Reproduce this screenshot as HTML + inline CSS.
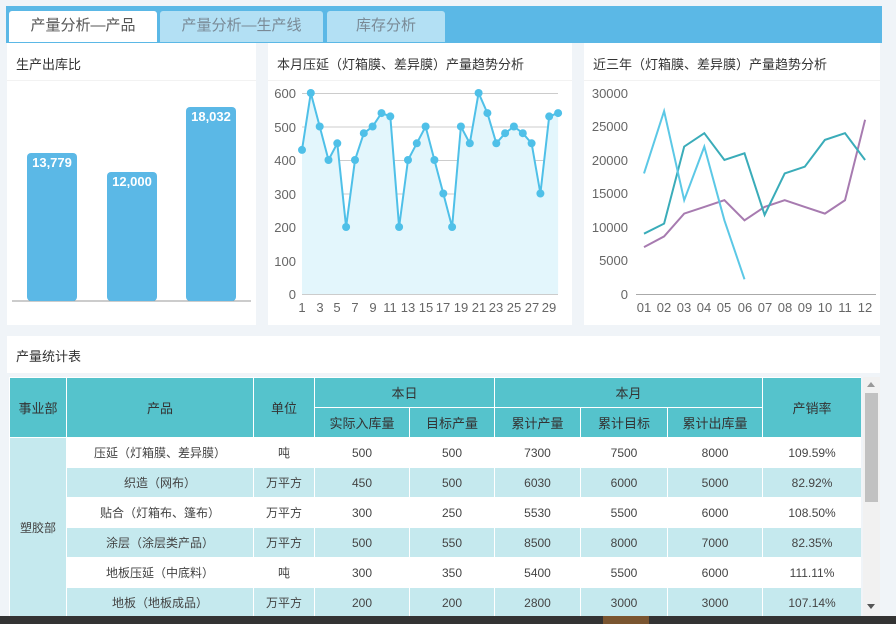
<!DOCTYPE html>
<html><head><meta charset="utf-8"><style>
body{margin:0;width:896px;height:624px;background:#f0f4f8;font-family:"Liberation Sans","Noto Sans CJK SC",sans-serif;position:relative;overflow:hidden}
.abs{position:absolute}
.tab{position:absolute;top:11px;height:31px;line-height:30px;text-align:center;font-size:15px;color:#7a8a96;background:#b3e0f4;border-radius:3px 3px 0 0}
.panel{position:absolute;background:#fff}
.ptitle{position:absolute;left:9px;top:11px;font-size:13px;color:#333}
table{border-collapse:collapse;font-size:12px;color:#444;table-layout:fixed}
td{border:1px solid #fff;text-align:center;padding:0;height:29px;background:#fff}
thead td{background:#55c3cc;color:#333;font-size:13px}
tr.a td{background:#c5e9ee}
</style></head><body>
<div class="abs" style="left:6px;top:6px;width:876px;height:37px;background:#5bb8e6"></div>
<div class="tab" style="left:9px;width:148px;background:#fff;color:#555">产量分析—产品</div>
<div class="tab" style="left:160px;width:163px">产量分析—生产线</div>
<div class="tab" style="left:327px;width:118px">库存分析</div>

<div class="panel" style="left:7px;top:43px;width:249px;height:282px"><div class="ptitle">生产出库比</div><div class="abs" style="left:0;top:37px;width:249px;height:1px;background:#f2f2f2"></div></div>
<div class="panel" style="left:268px;top:43px;width:304px;height:282px"><div class="ptitle">本月压延（灯箱膜、差异膜）产量趋势分析</div><div class="abs" style="left:0;top:37px;width:304px;height:1px;background:#f2f2f2"></div></div>
<div class="panel" style="left:584px;top:43px;width:296px;height:282px"><div class="ptitle">近三年（灯箱膜、差异膜）产量趋势分析</div><div class="abs" style="left:0;top:37px;width:296px;height:1px;background:#f2f2f2"></div></div>
<div class="panel" style="left:7px;top:336px;width:873px;height:37px"><div class="ptitle" style="top:10px">产量统计表</div></div>

<svg class="abs" style="left:0;top:0" width="896" height="624" font-family="Liberation Sans, sans-serif">
<line x1="12" y1="301" x2="251" y2="301" stroke="#999" stroke-width="1"/>
<rect x="27" y="153" width="50" height="148" rx="4" fill="#5bb8e6"/>
<rect x="107" y="172" width="50" height="129" rx="4" fill="#5bb8e6"/>
<rect x="186" y="107" width="50" height="194" rx="4" fill="#5bb8e6"/>
<g fill="#fff" font-size="13" font-weight="bold" text-anchor="middle">
<text x="52" y="167">13,779</text><text x="132" y="186">12,000</text><text x="211" y="121">18,032</text></g>
<g stroke="#ccc" stroke-width="1">
<line x1="302" y1="93.5" x2="558" y2="93.5"/><line x1="302" y1="127" x2="558" y2="127"/><line x1="302" y1="160.5" x2="558" y2="160.5"/><line x1="302" y1="194" x2="558" y2="194"/><line x1="302" y1="227.5" x2="558" y2="227.5"/><line x1="302" y1="261" x2="558" y2="261"/><line x1="302" y1="294.5" x2="558" y2="294.5"/></g>
<g fill="#666" font-size="13" text-anchor="end">
<text x="296" y="98">600</text><text x="296" y="132">500</text><text x="296" y="165">400</text><text x="296" y="199">300</text><text x="296" y="232">200</text><text x="296" y="266">100</text><text x="296" y="299">0</text></g>
<g fill="#666" font-size="13" text-anchor="middle">
<text x="302" y="312">1</text><text x="320" y="312">3</text><text x="337" y="312">5</text><text x="355" y="312">7</text><text x="373" y="312">9</text><text x="390" y="312">11</text><text x="408" y="312">13</text><text x="426" y="312">15</text><text x="443" y="312">17</text><text x="461" y="312">19</text><text x="479" y="312">21</text><text x="496" y="312">23</text><text x="514" y="312">25</text><text x="532" y="312">27</text><text x="549" y="312">29</text></g>
<g id="mid"></g>
<line x1="636" y1="294.5" x2="876" y2="294.5" stroke="#aaa"/>
<g fill="#666" font-size="13" text-anchor="end">
<text x="628" y="98">30000</text><text x="628" y="131">25000</text><text x="628" y="165">20000</text><text x="628" y="198">15000</text><text x="628" y="232">10000</text><text x="628" y="265">5000</text><text x="628" y="299">0</text></g>
<g fill="#666" font-size="13" text-anchor="middle">
<text x="644" y="312">01</text><text x="664" y="312">02</text><text x="684" y="312">03</text><text x="704" y="312">04</text><text x="724" y="312">05</text><text x="745" y="312">06</text><text x="765" y="312">07</text><text x="785" y="312">08</text><text x="805" y="312">09</text><text x="825" y="312">10</text><text x="845" y="312">11</text><text x="865" y="312">12</text></g>
<g id="rt"></g>
</svg>

<div class="abs" style="left:9px;top:377px;width:852px;height:239px;overflow:hidden">
<table style="width:852px">
<colgroup><col style="width:57px"><col style="width:187px"><col style="width:61px"><col style="width:95px"><col style="width:85px"><col style="width:86px"><col style="width:87px"><col style="width:95px"><col style="width:99px"></colgroup>
<thead><tr><td rowspan="2" style="height:57px">事业部</td><td rowspan="2">产品</td><td rowspan="2">单位</td><td colspan="2" style="height:27px">本日</td><td colspan="3">本月</td><td rowspan="2">产销率</td></tr>
<tr><td style="height:28px">实际入库量</td><td>目标产量</td><td>累计产量</td><td>累计目标</td><td>累计出库量</td></tr></thead>
<tbody>
<tr><td rowspan="6" style="background:#c5e9ee">塑胶部</td><td>压延（灯箱膜、差异膜）</td><td>吨</td><td>500</td><td>500</td><td>7300</td><td>7500</td><td>8000</td><td>109.59%</td></tr>
<tr class="a"><td>织造（网布）</td><td>万平方</td><td>450</td><td>500</td><td>6030</td><td>6000</td><td>5000</td><td>82.92%</td></tr>
<tr><td>贴合（灯箱布、篷布）</td><td>万平方</td><td>300</td><td>250</td><td>5530</td><td>5500</td><td>6000</td><td>108.50%</td></tr>
<tr class="a"><td>涂层（涂层类产品）</td><td>万平方</td><td>500</td><td>550</td><td>8500</td><td>8000</td><td>7000</td><td>82.35%</td></tr>
<tr><td>地板压延（中底料）</td><td>吨</td><td>300</td><td>350</td><td>5400</td><td>5500</td><td>6000</td><td>111.11%</td></tr>
<tr class="a"><td>地板（地板成品）</td><td>万平方</td><td>200</td><td>200</td><td>2800</td><td>3000</td><td>3000</td><td>107.14%</td></tr>
</tbody></table></div>
<div class="abs" style="left:863px;top:377px;width:17px;height:239px;background:#f1f1f1"></div>
<div class="abs" style="left:865px;top:393px;width:13px;height:109px;background:#c1c1c1"></div>
<div class="abs" style="left:867px;top:382px;width:0;height:0;border:4px solid transparent;border-bottom:5px solid #999;border-top:0"></div>
<div class="abs" style="left:867px;top:604px;width:0;height:0;border:4px solid transparent;border-top:5px solid #555;border-bottom:0"></div>
<div class="abs" style="left:0;top:616px;width:896px;height:8px;background:#333"></div>
<div class="abs" style="left:603px;top:616px;width:46px;height:8px;background:#7a5530"></div>
<script>
var NS="http://www.w3.org/2000/svg";
function el(p,t,a){var e=document.createElementNS(NS,t);for(var k in a)e.setAttribute(k,a[k]);p.appendChild(e);return e;}
var mv=[430,600,500,400,450,200,400,480,500,540,530,200,400,450,500,400,300,200,500,450,600,540,450,480,500,480,450,300,530,540];
var g=document.getElementById("mid"),pts=[];
mv.forEach(function(v,i){pts.push((302+i*8.83).toFixed(1)+","+(294-v*0.335).toFixed(1));});
el(g,"polygon",{points:"302,294 "+pts.join(" ")+" 558.1,294",fill:"#e3f6fc"});
el(g,"polyline",{points:pts.join(" "),fill:"none",stroke:"#4fc0e8","stroke-width":2});
pts.forEach(function(p){var c=p.split(",");el(g,"circle",{cx:c[0],cy:c[1],r:4,fill:"#4fc0e8"});});
var r=document.getElementById("rt");
function ln(d,col){el(r,"polyline",{points:d.map(function(v,i){return (644+i*20.1).toFixed(1)+","+(294-v*0.0067).toFixed(1)}).join(" "),fill:"none",stroke:col,"stroke-width":2});}
ln([7000,8600,12000,13000,14000,11000,13000,14000,13000,12000,14000,26000],"#a77bb0");
ln([9000,10500,22000,24000,20000,21000,11800,18000,19000,23000,24000,20000],"#3aacb9");
ln([18000,27300,14000,22000,11000,2200],"#5cc8e6");
</script>
</body></html>
